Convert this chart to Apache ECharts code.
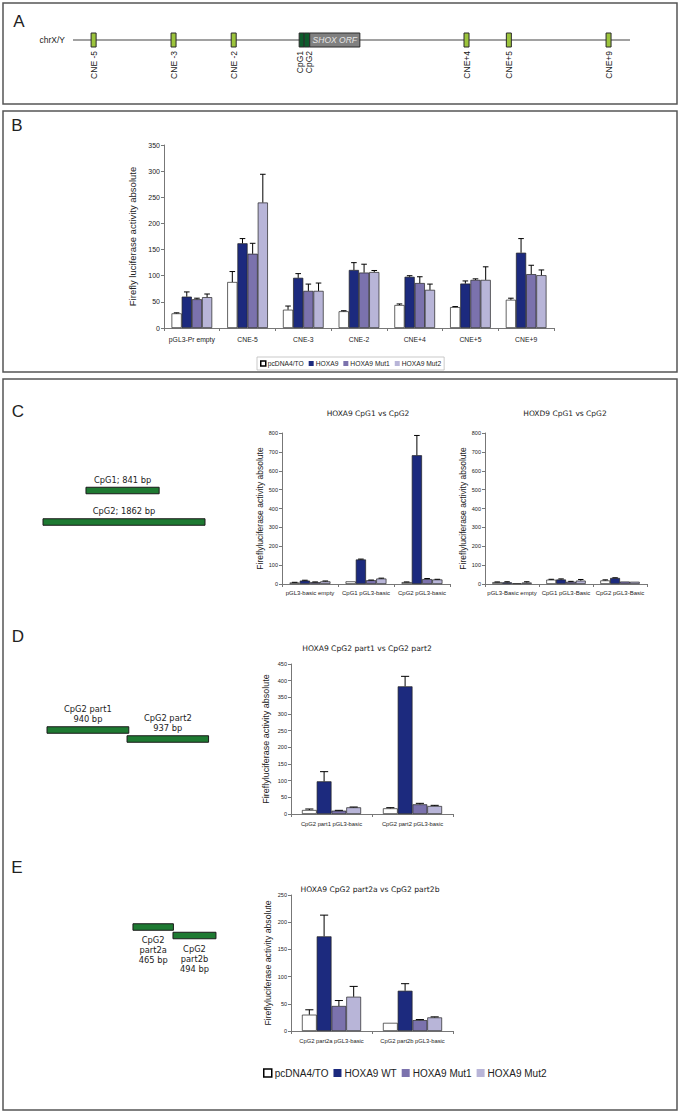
<!DOCTYPE html>
<html><head><meta charset="utf-8">
<script src="https://cdn.jsdelivr.net/npm/echarts@6/dist/echarts.min.js"></script>
<style>html,body{margin:0;padding:0;background:#fff}#c{width:681px;height:1115px}</style>
</head><body><div id="c"></div>
<script>
// ---------- Panel A schematic (relative positions along chrX/Y, 0-100) ----------
const aSpan = [0, 100];
const aLabels = ['CNE -5','CNE -3','CNE -2','CpG1','CpG2','SHOX ORF','CNE+4','CNE+5','CNE+9'];
const aStart  = [3.25, 17.6, 28.4, 40.6, 41.5, 42.5, 70.2, 77.8, 95.7];
const aEnd    = [4.15, 18.5, 29.3, 41.5, 42.5, 51.5, 71.1, 78.7, 96.6];
const aKind   = [0, 0, 0, 1, 1, 2, 0, 0, 0];

// ---------- Panel B ----------
const bCats = ['pGL3-Pr empty','CNE-5','CNE-3','CNE-2','CNE+4','CNE+5','CNE+9'];
const bNames = ['pcDNA4/TO','HOXA9','HOXA9 Mut1','HOXA9 Mut2'];
const bPc    = [28, 88, 35, 32, 44, 40, 54];
const bPcErr = [1, 20, 7, 1, 2, 1, 3];
const bWt    = [60, 162, 96, 111, 98, 85, 144];
const bWtErr = [9, 9, 8, 14, 2, 5, 27];
const bM1    = [55, 142, 71, 106, 86, 92, 103];
const bM1Err = [2, 20, 13, 16, 12, 2, 17];
const bM2    = [59, 240, 71, 107, 73, 92, 101];
const bM2Err = [6, 54, 15, 3, 11, 25, 10];

// ---------- Panel C ----------
const cNames = ['pcDNA4/TO','HOXA9 WT','HOXA9 Mut1','HOXA9 Mut2'];
const c1Cats = ['pGL3-basic empty','CpG1 pGL3-basic','CpG2 pGL3-basic'];
const c1Pc = [8, 14, 10],  c1PcErr = [1, 0, 1];
const c1Wt = [18, 130, 682], c1WtErr = [2, 2, 105];
const c1M1 = [10, 20, 26], c1M1Err = [1, 1, 3];
const c1M2 = [14, 29, 24], c1M2Err = [2, 2, 1];
const c2Cats = ['pGL3-Basic empty','CpG1 pGL3-Basic','CpG2 pGL3-Basic'];
const c2Pc = [10, 23, 19], c2PcErr = [1, 2, 3];
const c2Wt = [9, 24, 32],  c2WtErr = [3, 3, 1];
const c2M1 = [4, 12, 13],  c2M1Err = [0, 2, 0];
const c2M2 = [8, 18, 12],  c2M2Err = [4, 6, 0];
const cTicksMax = 800, cTickStep = 100;

// ---------- Panel D ----------
const dCats = ['CpG2 part1 pGL3-basic','CpG2 part2 pGL3-basic'];
const dPc = [12, 17],  dPcErr = [3, 2];
const dWt = [98, 383], dWtErr = [29, 30];
const dM1 = [10, 29],  dM1Err = [1, 3];
const dM2 = [20, 24],  dM2Err = [1, 2];

// ---------- Panel E ----------
const eCats = ['CpG2 part2a pGL3-basic','CpG2 part2b pGL3-basic'];
const ePc = [30, 15],  ePcErr = [9, 0];
const eWt = [174, 74], eWtErr = [39, 13];
const eM1 = [46, 20],  eM1Err = [10, 1];
const eM2 = [63, 25],  eM2Err = [19, 1];

// ---------- Fragment schematics (bp) ----------
const fragC = [[494, 1335, 0], [0, 1862, 1]];
const fragCLabels = ['CpG1; 841 bp', 'CpG2; 1862 bp'];
const fragD = [[46, 986, 0], [966, 1903, 1]];
const fragDLabels = ['CpG2 part1\n940 bp', 'CpG2 part2\n937 bp'];
const fragE = [[1034, 1499, 0], [1494, 1988, 1]];
const fragELabels = ['CpG2\npart2a\n465 bp', 'CpG2\npart2b\n494 bp'];

// ---------- styling ----------
const COLORS = ['#ffffff', '#1c2a7e', '#7b72ad', '#b8b5d8'];
const GAP = 0.27;
const SANS = 'Liberation Sans';
const VERD = 'DejaVu Sans';

const grids = [
  {left:73, top:20, width:557, height:40},     // 0 A
  {left:164, top:145, width:390, height:183},  // 1 B
  {left:282, top:433, width:168, height:151},  // 2 C1
  {left:485, top:433, width:162, height:151},  // 3 C2
  {left:291, top:664, width:162, height:150},  // 4 D
  {left:291, top:895, width:162, height:136},  // 5 E
  {left:43, top:490.5, width:162, height:31.5},// 6 frag C
  {left:43, top:730, width:162, height:9},     // 7 frag D
  {left:43, top:927, width:162, height:8.5}    // 8 frag E
];

function hiddenVal(gi, min, max, inverse){
  return {type:'value', gridIndex:gi, min, max, inverse:!!inverse, show:false, splitLine:{show:false}};
}
function catAxis(gi, data, fs, margin){
  return {type:'category', gridIndex:gi, data,
    axisLine:{lineStyle:{color:'#777', width:1}},
    axisTick:{show:true, length:3, lineStyle:{color:'#777'}},
    axisLabel:{fontSize:fs, color:'#222', margin, fontFamily:SANS, interval:0},
    splitLine:{show:false}};
}
function valAxis(gi, max, interval, fs, name, nameFs, nameGap){
  return {type:'value', gridIndex:gi, min:0, max, interval,
    axisLine:{show:true, lineStyle:{color:'#777'}},
    axisTick:{show:true, length:3, lineStyle:{color:'#777'}},
    axisLabel:{fontSize:fs, color:'#222', margin:4, fontFamily:SANS},
    splitLine:{show:false},
    name, nameLocation:'middle', nameRotate:90, nameGap,
    nameTextStyle:{fontSize:nameFs, color:'#222', fontFamily:SANS}};
}

const series = [];
function addChart(ai, names, vals, errs){
  for (let s = 0; s < 4; s++){
    series.push({type:'bar', name:names[s], xAxisIndex:ai, yAxisIndex:ai, data:vals[s],
      barGap:'0%', barCategoryGap:(GAP*100)+'%', silent:true,
      itemStyle:{color:COLORS[s], borderColor:'#222', borderWidth:0.7}});
  }
  const data = [];
  for (let s = 0; s < 4; s++) for (let i = 0; i < vals[s].length; i++) data.push([i, vals[s][i], errs[s][i], s]);
  series.push({type:'custom', name:'err'+ai, xAxisIndex:ai, yAxisIndex:ai, data, z:5, silent:true,
    encode:{x:0, y:1},
    renderItem(params, api){
      const i = api.value(0), v = api.value(1), e = api.value(2), s = api.value(3);
      if (!(e > 0)) return null;
      const base = api.coord([i, v]), top = api.coord([i, v + e]);
      const band = api.size([1, 0])[0];
      const bw = band * (1 - GAP) / 4;
      const x = base[0] - 2 * bw + (s + 0.5) * bw;
      const cap = bw * 0.55;
      return {type:'group', children:[
        {type:'line', shape:{x1:x, y1:base[1], x2:x, y2:top[1]}, style:{stroke:'#000', lineWidth:1}},
        {type:'line', shape:{x1:x - cap/2, y1:top[1], x2:x + cap/2, y2:top[1]}, style:{stroke:'#000', lineWidth:1}}
      ]};
    }});
}

// Panel A
series.push({type:'line', xAxisIndex:0, yAxisIndex:0, data:[[aSpan[0],0],[aSpan[1],0]], symbol:'none', silent:true,
  lineStyle:{color:'#444', width:1.2}, z:1});
series.push({type:'custom', xAxisIndex:0, yAxisIndex:0, silent:true, z:3,
  data: aStart.map((s, i) => [s, aEnd[i], aKind[i]]),
  encode:{x:[0,1]},
  renderItem(params, api){
    const idx = params.dataIndex;
    const k = api.value(2);
    const p1 = api.coord([api.value(0), 0]), p2 = api.coord([api.value(1), 0]);
    const y = p1[1], h = 14;
    const fill = k === 0 ? '#9cc43c' : (k === 1 ? '#0e5c2c' : '#808080');
    const ch = [{type:'rect', shape:{x:p1[0], y:y - h/2, width:p2[0] - p1[0], height:h},
      style:{fill, stroke:'#2a2a2a', lineWidth:1}}];
    const cx = (p1[0] + p2[0]) / 2;
    if (k === 2) {
      ch.push({type:'text', x:cx, y:y, style:{text:aLabels[idx], align:'center', verticalAlign:'middle',
        fontSize:8.5, fontStyle:'italic', fontFamily:SANS, fill:'#e6e6e6'}});
    } else {
      const dx = idx === 3 ? -1.5 : (idx === 4 ? 2.5 : 0);
      ch.push({type:'text', x:cx + dx, y:y + 11, rotation:Math.PI/2, style:{text:aLabels[idx], align:'right',
        verticalAlign:'middle', fontSize:8.5, fontFamily:SANS, fill:'#1a1a1a'}});
    }
    return {type:'group', children:ch};
  }});

addChart(1, bNames, [bPc,bWt,bM1,bM2], [bPcErr,bWtErr,bM1Err,bM2Err]);
addChart(2, cNames, [c1Pc,c1Wt,c1M1,c1M2], [c1PcErr,c1WtErr,c1M1Err,c1M2Err]);
addChart(3, cNames, [c2Pc,c2Wt,c2M1,c2M2], [c2PcErr,c2WtErr,c2M1Err,c2M2Err]);
addChart(4, cNames, [dPc,dWt,dM1,dM2], [dPcErr,dWtErr,dM1Err,dM2Err]);
addChart(5, cNames, [ePc,eWt,eM1,eM2], [ePcErr,eWtErr,eM1Err,eM2Err]);

function fragSeries(ai, data, labels, mode){
  return {type:'custom', xAxisIndex:ai, yAxisIndex:ai, silent:true, data, encode:{x:[0,1], y:2},
    renderItem(params, api){
      const idx = params.dataIndex;
      const row = api.value(2);
      const p1 = api.coord([api.value(0), row]), p2 = api.coord([api.value(1), row]);
      const h = 6.5, cx = (p1[0] + p2[0]) / 2;
      const ch = [{type:'rect', shape:{x:p1[0], y:p1[1] - h/2, width:p2[0] - p1[0], height:h},
        style:{fill:'#1e7a32', stroke:'#1a1a1a', lineWidth:1}}];
      const t = {type:'text', x:cx, style:{text:labels[idx], align:'center', fontSize:8.3,
        fontFamily:VERD, fill:'#222', lineHeight:10}};
      if (mode === 'below') { t.y = p1[1] + 8; t.style.verticalAlign = 'top'; }
      else { t.y = p1[1] - 6; t.style.verticalAlign = 'bottom'; }
      ch.push(t);
      return {type:'group', children:ch};
    }};
}
series.push(fragSeries(6, fragC, fragCLabels, 'above'));
series.push(fragSeries(7, fragD, fragDLabels, 'above'));
series.push(fragSeries(8, fragE, fragELabels, 'below'));

const xAxis = [
  hiddenVal(0, aSpan[0], aSpan[1]),
  catAxis(1, bCats, 6.8, 8),
  catAxis(2, c1Cats, 6, 6),
  catAxis(3, c2Cats, 6, 6),
  catAxis(4, dCats, 5.8, 7),
  catAxis(5, eCats, 5.8, 7),
  hiddenVal(6, 0, 1862), hiddenVal(7, 0, 1862), hiddenVal(8, 0, 1862)
];
const yAxis = [
  hiddenVal(0, -1, 1),
  valAxis(1, 350, 50, 7, 'Firefly luciferase activity absolute', 9.5, 26),
  valAxis(2, cTicksMax, cTickStep, 5.5, 'Fireflyluciferase activity absolute', 8.5, 13),
  valAxis(3, cTicksMax, cTickStep, 5.5, 'Fireflyluciferase activity absolute', 8.5, 18),
  valAxis(4, 450, 50, 5.5, 'Fireflyluciferase activity absolute', 9, 21),
  valAxis(5, 250, 50, 5.5, 'Fireflyluciferase activity absolute', 8.7, 19),
  hiddenVal(6, 0, 1, true), hiddenVal(7, 0, 1, true), hiddenVal(8, 0, 1, true)
];

function legItems(names){
  return names.map((n, i) => ({name:n, icon:'rect',
    itemStyle: i === 0 ? {color:'#fff', borderColor:'#000', borderWidth:1.5} : {color:COLORS[i], borderWidth:0}}));
}

function txt(text, x, y, size, family, extra){
  return Object.assign({type:'text', x, y, silent:true,
    style:{text, align:'center', verticalAlign:'middle', fontSize:size, fontFamily:family, fill:'#222'}}, extra || {});
}
function box(x, y, w, h){
  return {type:'rect', shape:{x, y, width:w, height:h}, silent:true, z:-1,
    style:{fill:'none', stroke:'#555', lineWidth:1.5}};
}

const option = {
  animation:false,
  grid: grids,
  xAxis, yAxis, series,
  legend:[
    {left:257, top:357, itemWidth:5, itemHeight:5, itemGap:5, padding:[3,3], borderColor:'#bbb', borderWidth:0.8,
      selectedMode:false, textStyle:{fontSize:6.7, color:'#222', fontFamily:SANS, padding:[0,0,0,-3]}, data:legItems(bNames)},
    {left:258, top:1063, itemWidth:8, itemHeight:8, itemGap:5, selectedMode:false,
      textStyle:{fontSize:10, color:'#222', fontFamily:SANS, padding:[0,0,0,-2]}, data:legItems(cNames)}
  ],
  graphic:[
    box(3, 3, 674, 101), box(3, 111, 674, 261), box(3, 379, 674, 731),
    txt('A', 19, 21, 17, SANS), txt('B', 17, 125, 17, SANS), txt('C', 18, 411, 17, SANS),
    txt('D', 18, 636, 17, SANS), txt('E', 17, 867, 17, SANS),
    {type:'text', x:65, y:40, silent:true, style:{text:'chrX/Y', align:'right', verticalAlign:'middle', fontSize:8.5, fontFamily:SANS, fill:'#222'}},
    txt('HOXA9 CpG1 vs CpG2', 368, 413, 7.5, VERD),
    txt('HOXD9 CpG1 vs CpG2', 565, 413, 7.5, VERD),
    txt('HOXA9 CpG2 part1 vs CpG2 part2', 367, 648, 7.6, VERD),
    txt('HOXA9 CpG2 part2a vs CpG2 part2b', 370, 889, 7.6, VERD)
  ]
};
const chart = echarts.init(document.getElementById('c'), null, {renderer:'svg', width:681, height:1115});
chart.setOption(option);
</script>
</body></html>
